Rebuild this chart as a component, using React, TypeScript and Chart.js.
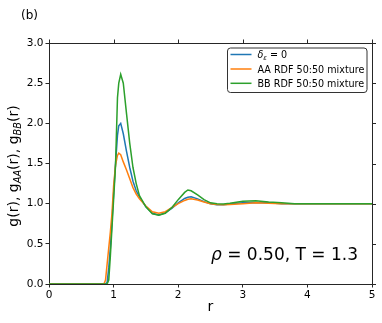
import React, { useEffect, useRef } from "react";
import { Chart, registerables } from "chart.js";

Chart.register(...registerables);

// ---- data ----
const r = [0, 0.8, 0.85, 0.875, 0.9, 0.925, 0.95, 0.975, 1.0, 1.03,
  1.06, 1.08, 1.11, 1.15, 1.2, 1.25, 1.3, 1.35, 1.4, 1.5,
  1.6, 1.7, 1.8, 1.9, 2.0, 2.1, 2.15, 2.2, 2.3, 2.4,
  2.5, 2.6, 2.7, 2.8, 3.0, 3.2, 3.4, 3.6, 3.8, 4.0,
  4.5, 5.0];
const gPure = [0, 0, 0, 0, 0.02, 0.2, 0.45, 0.78, 1.12, 1.5,
  1.85, 1.97, 2.0, 1.87, 1.65, 1.45, 1.28, 1.16, 1.08, 0.96,
  0.88, 0.86, 0.885, 0.94, 1.01, 1.065, 1.08, 1.085, 1.06, 1.025,
  1.0, 0.985, 0.985, 0.995, 1.01, 1.015, 1.01, 1.0, 1.0, 1.0,
  1.0, 1.0];
const gAA = [0, 0, 0, 0.05, 0.25, 0.45, 0.65, 0.88, 1.22, 1.48,
  1.6, 1.63, 1.61, 1.52, 1.42, 1.31, 1.2, 1.12, 1.06, 0.97,
  0.9, 0.88, 0.9, 0.95, 1.0, 1.04, 1.055, 1.06, 1.045, 1.02,
  1.0, 0.99, 0.985, 0.99, 1.0, 1.01, 1.005, 1.0, 1.0, 1.0,
  1.0, 1.0];
const gBB = [0, 0, 0, 0, 0, 0.05, 0.35, 0.7, 1.05, 1.48,
  2.32, 2.5, 2.61, 2.5, 2.12, 1.75, 1.45, 1.25, 1.1, 0.96,
  0.875, 0.855, 0.88, 0.95, 1.05, 1.14, 1.17, 1.16, 1.11, 1.05,
  1.01, 0.998, 0.995, 1.005, 1.03, 1.035, 1.02, 1.01, 1.0, 1.0,
  1.0, 1.0];

const seriesNames = ["δ_ε = 0", "AA RDF 50:50 mixture", "BB RDF 50:50 mixture"];
const seriesColors = ["#1f77b4", "#ff7f0e", "#2ca02c"];
const xTicks = [0, 1, 2, 3, 4, 5];
const yTicks = [0, 0.5, 1.0, 1.5, 2.0, 2.5, 3.0];
const panelLabel = "(b)";
const xTitle = "r";
const annotationRho = "ρ";
const annotationRest = " = 0.50, T = 1.3";

const AXIS = "#262626";
const FONT = "DejaVu Sans";

const decor = {
  id: "decor",
  afterDraw(chart: any) {
    const { ctx, chartArea: ca, scales } = chart;
    const xs = scales.x;
    const ys = scales.y;
    ctx.save();
    ctx.strokeStyle = AXIS;
    ctx.lineWidth = 1;
    // top & right spines
    ctx.beginPath();
    ctx.moveTo(ca.left, Math.round(ca.top) + 0.5);
    ctx.lineTo(ca.right + 0.5, Math.round(ca.top) + 0.5);
    ctx.moveTo(Math.round(ca.right) + 0.5, ca.top);
    ctx.lineTo(Math.round(ca.right) + 0.5, ca.bottom);
    ctx.stroke();
    // mirrored ticks
    ctx.beginPath();
    xTicks.forEach((v) => {
      const px = Math.round(xs.getPixelForValue(v)) + 0.5;
      ctx.moveTo(px, ca.top);
      ctx.lineTo(px, ca.top - 3.5);
    });
    yTicks.forEach((v) => {
      const py = Math.round(ys.getPixelForValue(v)) + 0.5;
      ctx.moveTo(ca.right, py);
      ctx.lineTo(ca.right + 4, py);
    });
    ctx.stroke();

    ctx.fillStyle = "#000";
    ctx.textBaseline = "alphabetic";
    // panel label
    ctx.font = `12px "${FONT}"`;
    ctx.textAlign = "left";
    ctx.fillText(panelLabel, 21, 19);

    // x title
    ctx.font = `14px "${FONT}"`;
    ctx.textAlign = "center";
    ctx.fillText(xTitle, (ca.left + ca.right) / 2, 311);

    // y title with subscripts
    const parts: [string, boolean][] = [
      ["g(r), g", false], ["AA", true], ["(r), g", false], ["BB", true], ["(r)", false],
    ];
    const big = `14px "${FONT}"`;
    const small = `italic 9.8px "${FONT}"`;
    let total = 0;
    parts.forEach(([t, sub]) => {
      ctx.font = sub ? small : big;
      total += ctx.measureText(t).width;
    });
    ctx.save();
    ctx.translate(18, 166);
    ctx.rotate(-Math.PI / 2);
    ctx.textAlign = "left";
    let cx = -total / 2;
    parts.forEach(([t, sub]) => {
      ctx.font = sub ? small : big;
      ctx.fillText(t, cx, sub ? 3 : 0);
      cx += ctx.measureText(t).width;
    });
    ctx.restore();

    // annotation
    ctx.textAlign = "left";
    ctx.font = `italic 17px "${FONT}"`;
    const ax = 211;
    const ay = 260;
    ctx.fillText(annotationRho, ax, ay);
    const rw = ctx.measureText(annotationRho).width;
    ctx.font = `17px "${FONT}"`;
    ctx.fillText(annotationRest, ax + rw, ay);

    // legend
    const lx1 = ca.right - 144.5;
    const lx2 = ca.right - 5;
    const ly1 = ca.top + 5;
    const ly2 = ca.top + 49.5;
    const rad = 3;
    ctx.beginPath();
    ctx.moveTo(lx1 + rad, ly1);
    ctx.lineTo(lx2 - rad, ly1);
    ctx.quadraticCurveTo(lx2, ly1, lx2, ly1 + rad);
    ctx.lineTo(lx2, ly2 - rad);
    ctx.quadraticCurveTo(lx2, ly2, lx2 - rad, ly2);
    ctx.lineTo(lx1 + rad, ly2);
    ctx.quadraticCurveTo(lx1, ly2, lx1, ly2 - rad);
    ctx.lineTo(lx1, ly1 + rad);
    ctx.quadraticCurveTo(lx1, ly1, lx1 + rad, ly1);
    ctx.closePath();
    ctx.fillStyle = "rgba(255,255,255,0.85)";
    ctx.fill();
    ctx.strokeStyle = "#333";
    ctx.lineWidth = 1;
    ctx.stroke();

    const rowY = [ly1 + 6.5, ly1 + 21, ly1 + 35.3];
    chart.data.datasets.forEach((ds: any, i: number) => {
      const y = rowY[i];
      ctx.strokeStyle = ds.borderColor;
      ctx.lineWidth = 1.5;
      ctx.beginPath();
      ctx.moveTo(lx1 + 3, y);
      ctx.lineTo(lx1 + 24, y);
      ctx.stroke();
      ctx.fillStyle = "#000";
      const tx = lx1 + 30;
      const ty = y + 3.5;
      if (i === 0) {
        ctx.font = `italic 9.6px "${FONT}"`;
        ctx.fillText("δ", tx, ty);
        let w = ctx.measureText("δ").width;
        ctx.font = `italic 6.7px "${FONT}"`;
        ctx.fillText("ε", tx + w, ty + 2);
        w += ctx.measureText("ε").width;
        ctx.font = `9.6px "${FONT}"`;
        ctx.fillText(" = 0", tx + w, ty);
      } else {
        ctx.font = `9.6px "${FONT}"`;
        ctx.fillText(seriesNames[i], tx, ty);
      }
    });
    ctx.restore();
  },
};

export default function App() {
  const ref = useRef<HTMLCanvasElement | null>(null);
  useEffect(() => {
    if (!ref.current) return;
    const mk = (vals: number[]) => r.map((x, i) => ({ x, y: vals[i] }));
    const all = [gPure, gAA, gBB];
    const chart = new Chart(ref.current, {
      type: "line",
      data: {
        datasets: all.map((vals, i) => ({
          label: seriesNames[i],
          data: mk(vals),
          borderColor: seriesColors[i],
          backgroundColor: seriesColors[i],
          borderWidth: 1.5,
          pointRadius: 0,
          tension: 0,
          fill: false,
          order: 2 - i,
        })),
      },
      options: {
        animation: false,
        responsive: false,
        maintainAspectRatio: false,
        layout: { padding: { top: 43, right: 10, left: 0, bottom: 0 } },
        plugins: { legend: { display: false }, tooltip: { enabled: false }, title: { display: false } },
        scales: {
          x: {
            type: "linear",
            min: 0,
            max: 5,
            afterFit: (s: any) => { s.height = 39; },
            afterBuildTicks: (s: any) => { s.ticks = xTicks.map((v) => ({ value: v })); },
            ticks: {
              color: "#000",
              padding: 1.5,
              font: { family: FONT, size: 10.5 },
              callback: (v: any) => String(v),
              maxRotation: 0,
            },
            grid: { display: true, drawOnChartArea: false, drawTicks: true, tickLength: 3.5, color: AXIS },
            border: { display: true, color: AXIS, width: 1 },
          },
          y: {
            type: "linear",
            min: 0,
            max: 3,
            afterFit: (s: any) => { s.width = 49; },
            afterBuildTicks: (s: any) => { s.ticks = yTicks.map((v) => ({ value: v })); },
            ticks: {
              color: "#000",
              padding: 2,
              font: { family: FONT, size: 10.5 },
              callback: (v: any) => Number(v).toFixed(1),
            },
            grid: { display: true, drawOnChartArea: false, drawTicks: true, tickLength: 3.5, color: AXIS },
            border: { display: true, color: AXIS, width: 1 },
          },
        },
      },
      plugins: [decor],
    });
    return () => chart.destroy();
  }, []);
  return (
    <div style={{ position: "fixed", left: 0, top: 0, width: 382, height: 323, background: "#fff" }}>
      <canvas ref={ref} width={382} height={323} style={{ width: 382, height: 323, display: "block" }} />
    </div>
  );
}
